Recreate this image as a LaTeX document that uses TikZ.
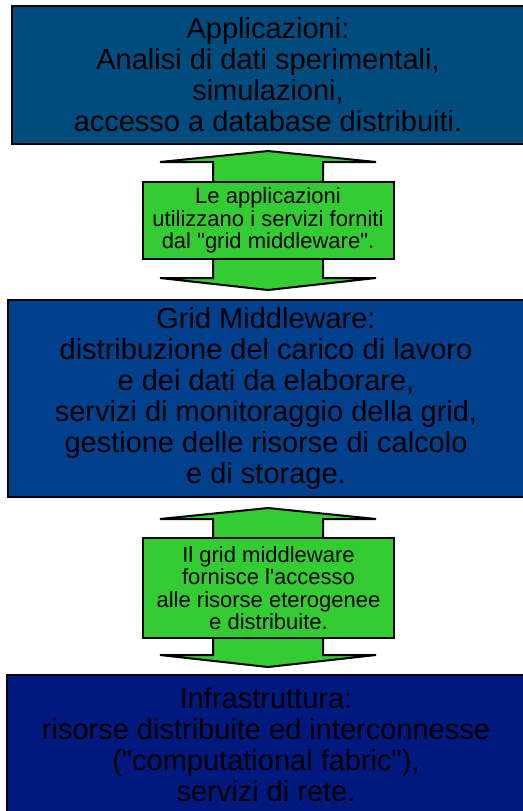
\documentclass[tikz,border=0pt]{standalone}
\usepackage{fontspec}
\setmainfont[Ligatures=TeXOff]{Liberation Sans}
\definecolor{appblue}{RGB}{0,76,127}
\definecolor{midblue}{RGB}{0,64,140}
\definecolor{infblue}{RGB}{0,25,127}
\definecolor{arrgreen}{RGB}{51,204,51}
\tikzset{
  layer/.style={draw=black,line width=2pt,inner sep=0pt,align=center,
    font=\fontsize{29}{31}\selectfont},
  dblarrow/.style={draw=black,fill=arrgreen,line width=2pt,line join=miter},
  note/.style={draw=black,fill=arrgreen,line width=2pt,inner sep=0pt,align=center,
    minimum width=251pt,font=\fontsize{22}{22.5}\selectfont}
}
\begin{document}
\begin{tikzpicture}[x=1pt,y=-1pt]
  \useasboundingbox (0,0) rectangle (522,811);
  % the three layers
  \node[layer,fill=appblue,minimum width=512pt,minimum height=138pt] (app) at (268,75)
    {Applicazioni:\\Analisi di dati sperimentali,\\simulazioni,\\accesso a database distribuiti.};
  \node[layer,fill=midblue,minimum width=516pt,minimum height=197pt] (mid) at (266,398.5)
    {Grid Middleware:\\distribuzione del carico di lavoro\\e dei dati da elaborare,\\servizi di monitoraggio della grid,\\gestione delle risorse di calcolo\\e di storage.};
  \node[layer,fill=infblue,minimum width=518pt,minimum height=140pt] (infra) at (266,745)
    {Infrastruttura:\\risorse distribuite ed interconnesse\\("computational fabric"),\\servizi di rete.};
  % double arrows between the layers
  \foreach \t/\b in {151/290, 508/667}{
    \draw[dblarrow] (268,\t) -- (376,{\t+11}) -- (323,{\t+11}) -- (323,{\b-12})
      -- (376,{\b-12}) -- (268,\b) -- (160,{\b-12}) -- (213,{\b-12})
      -- (213,{\t+11}) -- (160,{\t+11}) -- cycle;}
  \node[note,minimum height=77pt] (use) at (268,220.5)
    {Le applicazioni\\utilizzano i servizi forniti\\dal "grid middleware".};
  \node[note,minimum height=100pt] (access) at (268.5,588)
    {Il grid middleware\\fornisce l'accesso\\alle risorse eterogenee\\e distribuite.};
\end{tikzpicture}
\end{document}
